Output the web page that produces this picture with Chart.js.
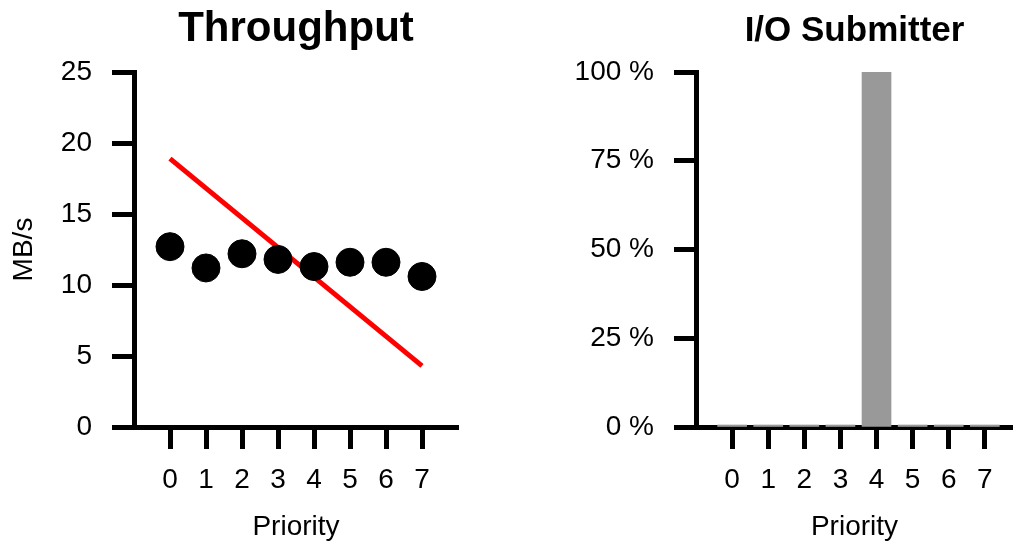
<!DOCTYPE html>
<html>
    <head>
        <meta charset="UTF-8" />
        <title>Throughput / I/O Submitter</title>
        <script src="https://cdn.jsdelivr.net/npm/chart.js@4.4.1/dist/chart.umd.min.js"></script>
        <style>
            body { margin: 0; background: #fff; }
            #left { position: absolute; left: 0; top: 0; }
            #right { position: absolute; left: 506px; top: 0; }
        </style>
    </head>
    <body>
        <canvas id="left" width="506" height="542"></canvas>
        <canvas id="right" width="507" height="542"></canvas>
        <script>
            // values
            var priorities = [0, 1, 2, 3, 4, 5, 6, 7];
            var throughput = [12.7, 11.2, 12.2, 11.8, 11.3, 11.6, 11.6, 10.6];
            var trendX = [0, 7];
            var trendY = [18.9, 4.3];
            var submitterPct = [0, 0, 0, 0, 100, 0, 0, 0];
            var mbTicks = [0, 5, 10, 15, 20, 25];
            var pctTicks = [0, 25, 50, 75, 100];

            Chart.defaults.font.family = "'Liberation Sans', Arial, sans-serif";
            Chart.defaults.color = '#000';

            function pairs(xs, ys) {
                return xs.map(function (x, i) { return {x: x, y: ys[i]}; });
            }

            function axisLook(extra) {
                var base = {
                    border: {display: true, width: 5, color: '#000'},
                    grid: {drawOnChartArea: false, tickLength: 22, tickWidth: 5, tickColor: '#000', offset: false},
                    ticks: {font: {size: 28}, padding: 20, color: '#000'}
                };
                return Object.assign(base, extra);
            }

            function priorityAxis(max) {
                var ax = axisLook({
                    type: 'linear',
                    min: -1,
                    max: max,
                    offset: false,
                    title: {display: true, text: 'Priority', font: {size: 28, lineHeight: 1}, padding: {top: 0, bottom: 1}},
                    afterBuildTicks: function (scale) {
                        scale.ticks = priorities.map(function (v) { return {value: v}; });
                    },
                    afterFit: function (scale) { scale.height = 115; }
                });
                ax.ticks.padding = 14;
                ax.ticks.callback = function (v) { return String(v); };
                return ax;
            }

            // top axis used only to hold the chart title, so it centres over the plot area
            function titleAxis(text, size, padTop) {
                return {
                    type: 'linear',
                    position: 'top',
                    border: {display: false},
                    grid: {display: false},
                    ticks: {display: false},
                    title: {display: true, text: text, font: {size: size, weight: 'bold', lineHeight: 1}, padding: {top: padTop, bottom: 0}},
                    afterFit: function (scale) { scale.height = 72; }
                };
            }

            new Chart(document.getElementById('left'), {
                type: 'scatter',
                data: {
                    datasets: [
                        {
                            data: pairs(priorities, throughput),
                            backgroundColor: '#000',
                            borderColor: '#000',
                            pointRadius: 14,
                            pointHoverRadius: 14,
                            borderWidth: 1,
                            showLine: false
                        },
                        {
                            data: pairs(trendX, trendY),
                            showLine: true,
                            borderColor: '#ff0000',
                            borderWidth: 5,
                            pointRadius: 0,
                            fill: false
                        }
                    ]
                },
                options: {
                    responsive: false,
                    animation: false,
                    layout: {padding: {left: 0, right: 48, top: 0, bottom: 0}},
                    plugins: {
                        legend: {display: false},
                        tooltip: {enabled: false}
                    },
                    scales: {
                        x: priorityAxis(8),
                        top: titleAxis('Throughput', 42, 8),
                        y: axisLook({
                            min: 0,
                            max: 25,
                            title: {display: true, text: 'MB/s', font: {size: 28, lineHeight: 1}, padding: {top: 10, bottom: 10}},
                            afterBuildTicks: function (scale) {
                                scale.ticks = mbTicks.map(function (v) { return {value: v}; });
                            },
                            afterFit: function (scale) { scale.width = 134; }
                        })
                    }
                }
            });

            var pctAxis = axisLook({
                min: 0,
                max: 100,
                afterBuildTicks: function (scale) {
                    scale.ticks = pctTicks.map(function (v) { return {value: v}; });
                },
                afterFit: function (scale) { scale.width = 190; }
            });
            pctAxis.ticks.callback = function (v) { return v + ' %'; };

            new Chart(document.getElementById('right'), {
                type: 'bar',
                data: {
                    datasets: [
                        {
                            data: pairs(priorities, submitterPct),
                            backgroundColor: '#999999',
                            borderWidth: 0,
                            barThickness: 29,
                            minBarLength: 2
                        }
                    ]
                },
                options: {
                    responsive: false,
                    animation: false,
                    layout: {padding: {left: 0, right: 0, top: 0, bottom: 0}},
                    plugins: {
                        legend: {display: false},
                        tooltip: {enabled: false}
                    },
                    scales: {
                        x: priorityAxis(7.78),
                        top: titleAxis('I/O Submitter', 35, 14),
                        y: pctAxis
                    }
                }
            });
        </script>
    </body>
</html>
